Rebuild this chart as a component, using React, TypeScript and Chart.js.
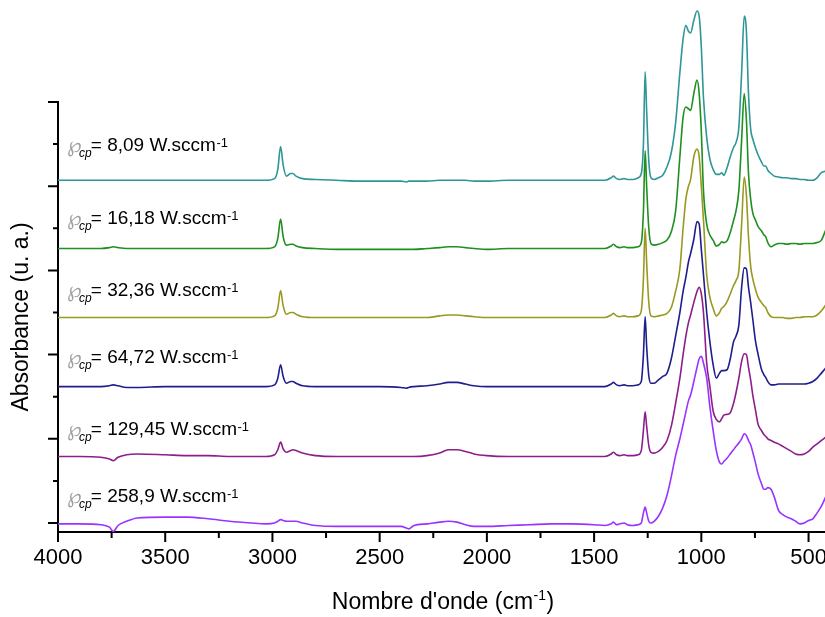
import React, { useEffect, useRef } from 'react';
import { Chart, registerables } from 'chart.js';

Chart.register(...registerables);

// Wavenumbers (cm-1), shared by every spectrum
const WAVENUMBERS = [
  4000, 3900, 3800, 3760, 3742, 3720, 3680, 3630, 3500, 3400,
  3300, 3200, 3100, 3030, 2990, 2975, 2962, 2950, 2935, 2915,
  2905, 2890, 2860, 2800, 2700, 2600, 2500, 2400, 2375, 2365,
  2340, 2280, 2220, 2180, 2140, 2100, 2060, 2000, 1900, 1800,
  1700, 1600, 1500, 1450, 1420, 1410, 1395, 1380, 1360, 1345,
  1320, 1295, 1280, 1270, 1262, 1255, 1245, 1235, 1220, 1200,
  1180, 1160, 1140, 1120, 1100, 1085, 1072, 1060, 1050, 1035,
  1020, 1010, 1000, 990, 975, 960, 945, 930, 915, 905,
  895, 880, 865, 850, 838, 825, 812, 800, 790, 780,
  770, 760, 748, 735, 720, 708, 700, 690, 675, 660,
  640, 620, 600, 580, 560, 540, 520, 500, 480, 460,
  440, 420,
];

// Absorbance (stacked, arbitrary units)
const ABS_8_09 = [
  4.07, 4.07, 4.07, 4.07, 4.07, 4.07, 4.07, 4.07, 4.07, 4.07,
  4.07, 4.07, 4.07, 4.07, 4.09, 4.20, 4.47, 4.25, 4.12, 4.15,
  4.15, 4.12, 4.09, 4.08, 4.07, 4.06, 4.06, 4.06, 4.05, 4.06,
  4.06, 4.06, 4.07, 4.07, 4.07, 4.07, 4.06, 4.06, 4.07, 4.07,
  4.07, 4.07, 4.07, 4.07, 4.10, 4.12, 4.09, 4.08, 4.09, 4.08,
  4.08, 4.10, 4.15, 4.50, 5.36, 4.90, 4.30, 4.10, 4.08, 4.10,
  4.13, 4.23, 4.40, 4.75, 5.35, 5.75, 5.91, 5.84, 5.82, 5.97,
  6.08, 6.02, 5.65, 5.05, 4.58, 4.32, 4.20, 4.14, 4.14, 4.16,
  4.13, 4.22, 4.35, 4.46, 4.52, 4.70, 5.35, 6.02, 5.85, 5.10,
  4.68, 4.56, 4.46, 4.37, 4.29, 4.24, 4.24, 4.19, 4.15, 4.12,
  4.11, 4.10, 4.10, 4.09, 4.09, 4.08, 4.08, 4.07, 4.07, 4.10,
  4.16, 4.18,
];
const ABS_16_18 = [
  3.26, 3.26, 3.26, 3.27, 3.28, 3.27, 3.26, 3.26, 3.26, 3.26,
  3.26, 3.26, 3.26, 3.26, 3.28, 3.38, 3.61, 3.40, 3.30, 3.31,
  3.31, 3.29, 3.27, 3.26, 3.25, 3.25, 3.25, 3.25, 3.25, 3.25,
  3.25, 3.26, 3.27, 3.28, 3.28, 3.27, 3.26, 3.25, 3.26, 3.26,
  3.26, 3.26, 3.26, 3.26, 3.29, 3.31, 3.28, 3.27, 3.28, 3.27,
  3.27, 3.28, 3.33, 3.70, 4.42, 4.00, 3.50, 3.32, 3.30, 3.31,
  3.33, 3.36, 3.46, 3.70, 4.35, 4.82, 4.94, 4.92, 4.90, 5.10,
  5.26, 5.10, 4.65, 3.95, 3.55, 3.42, 3.36, 3.29, 3.31, 3.34,
  3.33, 3.35, 3.45, 3.59, 3.71, 3.95, 4.55, 5.10, 4.80, 4.15,
  3.85, 3.68, 3.60, 3.52, 3.47, 3.42, 3.40, 3.33, 3.28, 3.30,
  3.32, 3.32, 3.31, 3.32, 3.32, 3.31, 3.32, 3.32, 3.32, 3.33,
  3.36, 3.48,
];
const ABS_32_36 = [
  2.44, 2.44, 2.44, 2.44, 2.44, 2.44, 2.44, 2.44, 2.44, 2.44,
  2.44, 2.44, 2.44, 2.44, 2.46, 2.55, 2.76, 2.58, 2.48, 2.50,
  2.50, 2.48, 2.45, 2.44, 2.44, 2.44, 2.44, 2.44, 2.44, 2.44,
  2.44, 2.44, 2.46, 2.47, 2.47, 2.46, 2.45, 2.44, 2.44, 2.44,
  2.44, 2.44, 2.44, 2.44, 2.47, 2.49, 2.46, 2.45, 2.46, 2.45,
  2.45, 2.46, 2.52, 2.90, 3.50, 3.10, 2.62, 2.46, 2.45, 2.46,
  2.47, 2.49, 2.56, 2.75, 3.02, 3.50, 3.85, 4.00, 4.08, 4.35,
  4.44, 4.35, 4.00, 3.60, 2.95, 2.68, 2.55, 2.46, 2.50, 2.55,
  2.57, 2.63, 2.72, 2.82, 2.88, 3.00, 3.55, 4.11, 3.90, 3.40,
  3.05, 2.90, 2.78, 2.68, 2.62, 2.58, 2.56, 2.50, 2.45, 2.44,
  2.44, 2.44, 2.43, 2.43, 2.44, 2.44, 2.45, 2.45, 2.45, 2.47,
  2.52, 2.59,
];
const ABS_64_72 = [
  1.62, 1.62, 1.62, 1.63, 1.64, 1.63, 1.61, 1.61, 1.62, 1.62,
  1.62, 1.62, 1.62, 1.62, 1.64, 1.72, 1.88, 1.74, 1.66, 1.68,
  1.68, 1.66, 1.63, 1.62, 1.62, 1.62, 1.62, 1.61, 1.60, 1.61,
  1.62, 1.63, 1.65, 1.67, 1.67, 1.65, 1.63, 1.62, 1.62, 1.62,
  1.62, 1.62, 1.62, 1.62, 1.65, 1.67, 1.64, 1.63, 1.64, 1.63,
  1.63, 1.64, 1.68, 2.00, 2.45, 2.10, 1.75, 1.66, 1.66, 1.70,
  1.74, 1.78, 1.95, 2.22, 2.50, 2.75, 2.92, 3.10, 3.20, 3.37,
  3.58, 3.55, 3.25, 2.95, 2.50, 2.15, 1.88, 1.72, 1.78, 1.81,
  1.81, 1.82, 1.95, 2.15, 2.22, 2.35, 2.80, 3.03, 3.02, 2.80,
  2.62, 2.42, 2.17, 2.00, 1.83, 1.76, 1.73, 1.68, 1.64, 1.64,
  1.65, 1.65, 1.65, 1.65, 1.65, 1.65, 1.65, 1.66, 1.68, 1.72,
  1.78, 1.84,
];
const ABS_129_45 = [
  0.79, 0.79, 0.78, 0.76, 0.74, 0.78, 0.81, 0.82, 0.81, 0.80,
  0.80, 0.79, 0.79, 0.79, 0.81, 0.87, 0.96, 0.88, 0.84, 0.86,
  0.87, 0.86, 0.83, 0.80, 0.79, 0.79, 0.79, 0.79, 0.79, 0.79,
  0.79, 0.80, 0.83, 0.87, 0.87, 0.85, 0.82, 0.80, 0.79, 0.79,
  0.79, 0.79, 0.79, 0.79, 0.82, 0.84, 0.81, 0.80, 0.81, 0.80,
  0.80, 0.81, 0.86, 1.10, 1.32, 1.15, 0.92, 0.84, 0.83, 0.85,
  0.90, 0.98, 1.15, 1.42, 1.72, 2.00, 2.22, 2.38, 2.47, 2.62,
  2.75, 2.80, 2.72, 2.50, 1.90, 1.62, 1.33, 1.23, 1.20, 1.24,
  1.28, 1.29, 1.31, 1.42, 1.55, 1.72, 1.92, 2.01, 2.00, 1.85,
  1.70, 1.52, 1.35, 1.17, 1.10, 1.05, 1.03, 1.00, 0.98, 0.96,
  0.94, 0.91, 0.88, 0.85, 0.82, 0.81, 0.82, 0.85, 0.90, 0.94,
  0.98, 1.02,
];
const ABS_258_9 = [
  -0.01, -0.01, -0.02, -0.05, -0.10, -0.03, 0.02, 0.06, 0.07, 0.07,
  0.05, 0.02, 0.00, -0.01, 0.00, 0.02, 0.04, 0.03, 0.02, 0.02,
  0.02, 0.02, 0.00, -0.03, -0.04, -0.04, -0.04, -0.04, -0.06, -0.07,
  -0.03, -0.01, 0.01, 0.02, 0.01, -0.02, -0.04, -0.04, -0.03, -0.02,
  -0.01, -0.01, -0.02, -0.03, -0.01, 0.01, -0.02, -0.01, 0.00, -0.02,
  -0.03, -0.02, 0.00, 0.12, 0.19, 0.12, 0.02, 0.00, 0.02, 0.08,
  0.18, 0.33, 0.55, 0.80, 1.00, 1.17, 1.32, 1.45, 1.52, 1.68,
  1.85, 1.95, 1.98, 1.90, 1.72, 1.38, 1.10, 0.86, 0.72, 0.70,
  0.73, 0.77, 0.82, 0.87, 0.91, 0.95, 1.00, 1.06, 1.04, 0.98,
  0.93, 0.84, 0.72, 0.58, 0.47, 0.40, 0.40, 0.42, 0.40, 0.31,
  0.15, 0.10, 0.07, 0.05, 0.02, -0.01, 0.00, 0.03, 0.05, 0.12,
  0.20, 0.31,
];

const POWER_LABELS = ['8,09', '16,18', '32,36', '64,72', '129,45', '258,9'];
const SERIES_VALUES = [ABS_8_09, ABS_16_18, ABS_32_36, ABS_64_72, ABS_129_45, ABS_258_9];
const SERIES_COLORS = ['#2E9696', '#1F8F1F', '#999922', '#1E1E8C', '#8C1E8C', '#9933FF'];
const LABEL_Y = [4.42, 3.55, 2.70, 1.90, 1.05, 0.25];
const LABEL_X = 3953;

const X_MAJOR = [4000, 3500, 3000, 2500, 2000, 1500, 1000, 500];
const X_MINOR = [3750, 3250, 2750, 2250, 1750, 1250, 750];
const Y_MAJOR = [0, 1, 2, 3, 4, 5];
const Y_MINOR = [0.5, 1.5, 2.5, 3.5, 4.5];

const X_MIN = 330;
const X_MAX = 4000;
const Y_MIN = -0.107;
const Y_MAX = 5;

const FONT = '"Liberation Sans", Arial, sans-serif';

const decorPlugin = {
  id: 'decor',
  afterDraw(chart: any) {
    const { ctx, chartArea } = chart;
    const xs = chart.scales.x;
    const ys = chart.scales.y;
    ctx.save();
    ctx.strokeStyle = '#000';
    ctx.lineWidth = 2;
    ctx.beginPath();
    X_MAJOR.forEach((v) => {
      const px = xs.getPixelForValue(v);
      ctx.moveTo(px, chartArea.bottom);
      ctx.lineTo(px, chartArea.bottom + 10);
    });
    X_MINOR.forEach((v) => {
      const px = xs.getPixelForValue(v);
      ctx.moveTo(px, chartArea.bottom);
      ctx.lineTo(px, chartArea.bottom + 6);
    });
    Y_MAJOR.forEach((v) => {
      const py = ys.getPixelForValue(v);
      ctx.moveTo(chartArea.left, py);
      ctx.lineTo(chartArea.left - 10, py);
    });
    Y_MINOR.forEach((v) => {
      const py = ys.getPixelForValue(v);
      ctx.moveTo(chartArea.left, py);
      ctx.lineTo(chartArea.left - 5, py);
    });
    ctx.stroke();

    // series annotations
    ctx.textBaseline = 'alphabetic';
    ctx.textAlign = 'left';
    LABEL_Y.forEach((v, i) => {
      const x0 = xs.getPixelForValue(LABEL_X);
      const yb = ys.getPixelForValue(v);
      ctx.fillStyle = '#a0a0a0';
      ctx.font = 'italic 21px "DejaVu Sans"';
      ctx.fillText('\u2118', x0 - 1, yb + 1);
      ctx.fillStyle = '#000';
      ctx.font = `italic 12px ${FONT}`;
      ctx.fillText('cp', x0 + 11, yb + 6);
      ctx.font = `19px ${FONT}`;
      const main = `= ${POWER_LABELS[i]} W.sccm`;
      ctx.fillText(main, x0 + 22.7, yb);
      const w = ctx.measureText(main).width;
      ctx.font = `13px ${FONT}`;
      ctx.fillText('-1', x0 + 22.7 + w + 0.5, yb - 4);
    });

    // x-axis title with superscript
    const t1 = "Nombre d'onde (cm";
    const sup = '-1';
    const t2 = ')';
    ctx.font = `23px ${FONT}`;
    const w1 = ctx.measureText(t1).width;
    const w3 = ctx.measureText(t2).width;
    ctx.font = `14px ${FONT}`;
    const w2 = ctx.measureText(sup).width;
    const total = w1 + w2 + w3 + 1;
    const cx = 443;
    let sx = cx - total / 2;
    const by = 609;
    ctx.font = `23px ${FONT}`;
    ctx.fillText(t1, sx, by);
    sx += w1 + 0.5;
    ctx.font = `14px ${FONT}`;
    ctx.fillText(sup, sx, by - 9);
    sx += w2 + 0.5;
    ctx.font = `23px ${FONT}`;
    ctx.fillText(t2, sx, by);
    ctx.restore();
  },
};

export default function App() {
  const canvasRef = useRef<HTMLCanvasElement | null>(null);

  useEffect(() => {
    if (!canvasRef.current) return;
    const datasets = SERIES_VALUES.map((vals, i) => ({
      label: POWER_LABELS[i],
      data: WAVENUMBERS.map((w, k) => ({ x: w, y: vals[k] })),
      borderColor: SERIES_COLORS[i],
      backgroundColor: SERIES_COLORS[i],
      borderWidth: 1.6,
      pointRadius: 0,
      cubicInterpolationMode: 'monotone' as const,
      clip: false as any,
      fill: false,
    }));
    const chart = new Chart(canvasRef.current, {
      type: 'line',
      data: { datasets },
      options: {
        animation: false,
        responsive: false,
        devicePixelRatio: 1,
        layout: { padding: { top: 102, left: 0, right: 0, bottom: 0 } },
        plugins: { legend: { display: false }, tooltip: { enabled: false } },
        scales: {
          x: {
            type: 'linear',
            reverse: true,
            min: X_MIN,
            max: X_MAX,
            afterBuildTicks: (scale: any) => {
              scale.ticks = X_MAJOR.map((v) => ({ value: v }));
            },
            afterFit: (scale: any) => {
              scale.height = 85;
            },
            grid: { display: false, drawTicks: false },
            border: { display: true, color: '#000', width: 2 },
            ticks: {
              color: '#000',
              font: { family: FONT, size: 22 },
              padding: 13,
              maxRotation: 0,
              autoSkip: false,
              callback: (v: any) => String(v),
            },
          },
          y: {
            type: 'linear',
            min: Y_MIN,
            max: Y_MAX,
            afterFit: (scale: any) => {
              scale.width = 58;
            },
            grid: { display: false, drawTicks: false },
            border: { display: true, color: '#000', width: 2 },
            ticks: { display: false },
            title: {
              display: true,
              text: 'Absorbance (u. a.)',
              color: '#000',
              font: { family: FONT, size: 23 },
              padding: { top: 8, bottom: 0 },
            },
          },
        },
      },
      plugins: [decorPlugin],
    });
    return () => chart.destroy();
  }, []);

  return (
    <div
      style={{
        position: 'fixed',
        left: 0,
        top: 0,
        width: 825,
        height: 617,
        overflow: 'hidden',
        background: '#fff',
      }}
    >
      <canvas ref={canvasRef} width={845} height={617} style={{ display: 'block' }} />
    </div>
  );
}
